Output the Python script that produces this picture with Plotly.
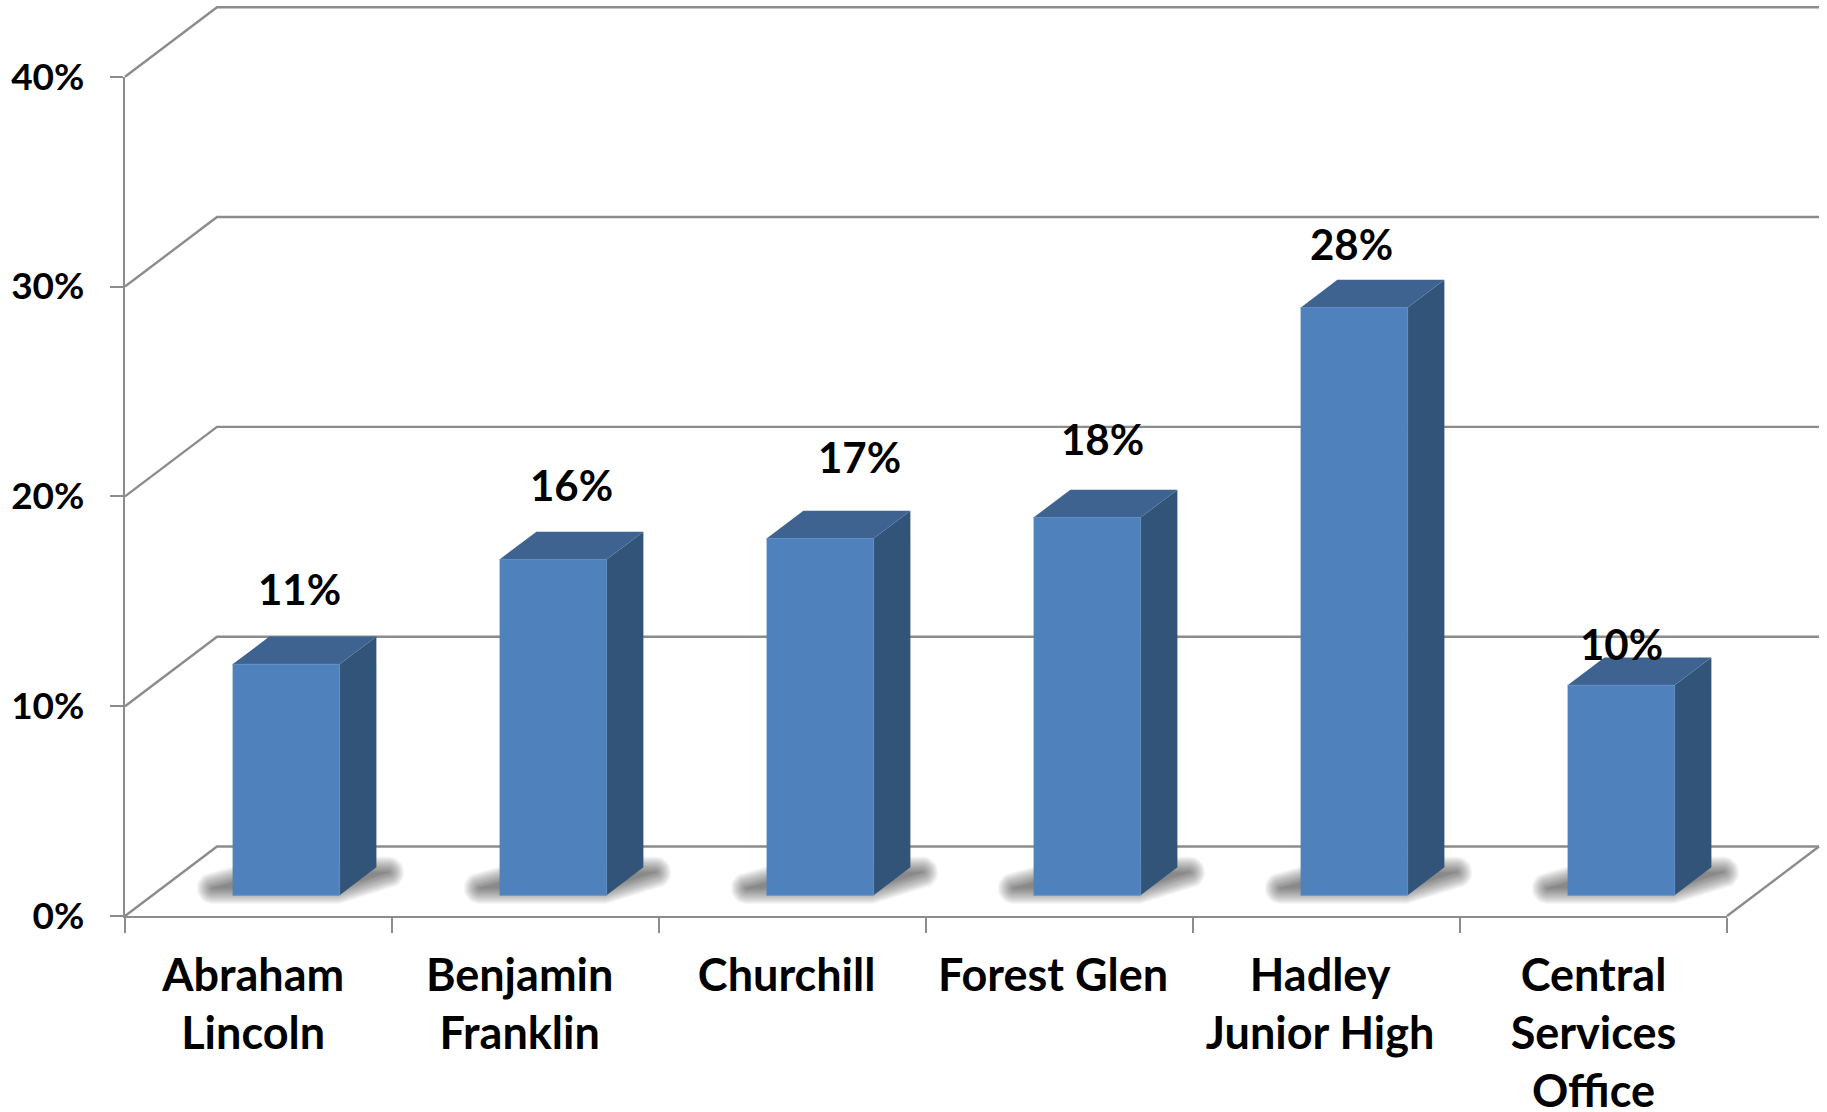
import math
import plotly.graph_objects as go

# ---- data ----
schools = ["Abraham<br>Lincoln", "Benjamin<br>Franklin", "Churchill", "Forest Glen",
           "Hadley<br>Junior High", "Central<br>Services<br>Office"]
values = [11, 16, 17, 18, 28, 10]
value_labels = ["11%", "16%", "17%", "18%", "28%", "10%"]
y_ticks = [0, 10, 20, 30, 40]
y_tick_labels = ["0%", "10%", "20%", "30%", "40%"]
# hand placement of the value labels, in pixels from the top of the front face
label_dx = [13, 18.5, 39, 15.5, -3, 0]
label_dy = [75, 74, 81, 78, 64, 41]
# hand placement of the category labels along the axis (category units)
cat_shift = [-0.02, -0.022, -0.022, -0.024, -0.024, 0]

# ---- geometry ----
W, H = 1827, 1112
L, R, T, B = 125, 1727, 76.7, 916
PX = (5.5 + 0.5) / (R - L)      # category units per pixel
PY = 40 / (B - T)               # percent per pixel
DEPTH_X, DEPTH_Y = 92 * PX, 69.5 * PY
BAR_W = 107 * PX
FRONT = 0.3                     # bar front as fraction of floor depth
BAR_D = 0.4                     # bar depth as fraction of floor depth
GREY = "#8c8c8c"
LINE_W = 2.4
FONT = "Lato"
Y_LABEL_PX, VALUE_PX, CAT_PX = 37, 42, 45

fx, fy = FRONT * DEPTH_X, FRONT * DEPTH_Y
bx, by = BAR_D * DEPTH_X, BAR_D * DEPTH_Y
xmin, xmax = -0.5, 5.5

fig = go.Figure()


def line(xs, ys):
    fig.add_trace(go.Scatter(x=xs, y=ys, mode="lines",
                             line=dict(color=GREY, width=LINE_W), hoverinfo="skip", showlegend=False))


def poly(xs, ys, color, edge=None):
    fig.add_trace(go.Scatter(x=xs, y=ys, mode="lines", fill="toself", fillcolor=color,
                             line=dict(width=1 if edge else 0, color=edge or color),
                             hoverinfo="skip", showlegend=False))


def rounded(core, r):
    """Outline of a convex polygon grown by radius r (pixel-sized units)."""
    xs, ys = [], []
    for a in range(0, 360, 12):
        c, s = math.cos(math.radians(a)), math.sin(math.radians(a))
        vx, vy = max(core, key=lambda p: p[0] / PX * c + p[1] / PY * s)
        xs.append(vx + r * c * PX)
        ys.append(vy + r * s * PY)
    return xs, ys


# back wall, left wall and floor
for v in y_ticks:
    line([xmin, xmin + DEPTH_X, xmax + DEPTH_X], [v, v + DEPTH_Y, v + DEPTH_Y])
line([xmax, xmax + DEPTH_X], [0, DEPTH_Y])

# soft floor shadows, built from stacked translucent polygons
for i, v in enumerate(values):
    x0 = i + fx - BAR_W / 2
    x1 = x0 + BAR_W
    core = [(x0 - 20 * PX, fy + 7 * PY), (x1 - 2 * PX, fy + 7 * PY),
            (x1 + bx + 12 * PX, fy + by - 5 * PY), (x0 + bx, fy + by - 5 * PY)]
    for k in range(16):
        sx, sy = rounded(core, 16 - k * 16 / 15)
        poly(sx, sy, "rgba(0,0,0,0.036)")

# bar faces
for i, v in enumerate(values):
    x0 = i + fx - BAR_W / 2
    x1 = x0 + BAR_W
    poly([x1, x1 + bx, x1 + bx, x1], [fy, fy + by, fy + by + v, fy + v], "#335479")
    poly([x0, x1, x1 + bx, x0 + bx], [fy + v, fy + v, fy + v + by, fy + v + by], "#3e6390")
    poly([x0, x1, x1, x0], [fy, fy, fy + v, fy + v], "#4f81bd", edge="#5f8dc4")

# empty trace that brings up the subplot carrying the visible axes
fig.add_trace(go.Scatter(x=[None], y=[None], xaxis="x2", yaxis="y2", showlegend=False, hoverinfo="skip"))

annotations = [
    dict(x=i + fx, y=fy + v, xref="x", yref="y", text=value_labels[i], showarrow=False,
         xshift=label_dx[i], yshift=label_dy[i], xanchor="center", yanchor="middle",
         font=dict(family=FONT, size=VALUE_PX, color="black", weight="bold"))
    for i, v in enumerate(values)
]

cat_positions = [i + cat_shift[i] for i in range(len(schools))]
wrapped = [f'<span style="font-size:{CAT_PX}px">{s}</span>'.replace(
    "<br>", f'</span><br><span style="font-size:{CAT_PX}px">') for s in schools]

fig.update_layout(
    width=W, height=H, autosize=False,
    margin=dict(l=0, r=0, t=0, b=0, pad=0),
    paper_bgcolor="white", plot_bgcolor="rgba(0,0,0,0)",
    annotations=annotations, showlegend=False,
    font=dict(family=FONT, color="black"),
    # full-canvas drawing axes on the same scale as the visible axes
    xaxis=dict(visible=False, domain=[0, 1], range=[xmin - L * PX, xmax + (W - R) * PX]),
    yaxis=dict(visible=False, domain=[0, 1], range=[-(H - B) * PY, 40 + T * PY]),
    xaxis2=dict(domain=[L / W, R / W], anchor="y2", range=[xmin, xmax], tickmode="array",
                tickvals=cat_positions, ticktext=wrapped,
                ticks="", showgrid=False, zeroline=False, showline=True, linecolor=GREY, linewidth=LINE_W,
                tickangle=0, ticklabelstandoff=19, automargin=False,
                tickfont=dict(family=FONT, size=44.6, color="black", weight="bold"),
                minor=dict(tickmode="array", tickvals=[xmin + k for k in range(7)], ticks="outside",
                           ticklen=15, tickwidth=2, tickcolor=GREY, showgrid=False)),
    yaxis2=dict(domain=[(H - B) / H, 1 - T / H], anchor="x2", range=[0, 40], tickmode="array",
                tickvals=y_ticks, ticktext=y_tick_labels,
                ticks="outside", ticklen=13, tickwidth=2, tickcolor=GREY, ticklabelstandoff=18,
                showgrid=False, zeroline=False, showline=True, linecolor=GREY, linewidth=LINE_W, automargin=False,
                tickfont=dict(family=FONT, size=Y_LABEL_PX, color="black", weight="bold")),
)

fig.write_html("out.html", config=dict(displayModeBar=False),
               post_script="document.body.style.margin='0';document.documentElement.style.overflow='hidden';")
